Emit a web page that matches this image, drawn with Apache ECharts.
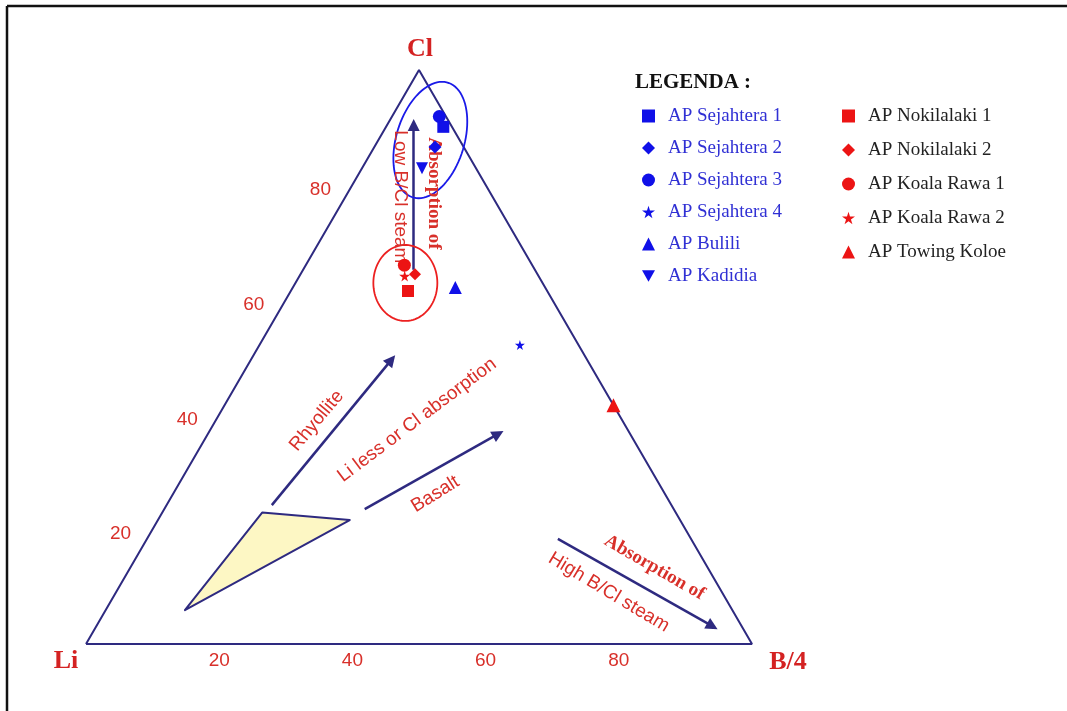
<!DOCTYPE html>
<html>
<head>
<meta charset="utf-8">
<script src="https://cdn.jsdelivr.net/npm/echarts/dist/echarts.min.js"></script>
<style>
html, body { margin: 0; padding: 0; background: #fff; }
#main { width: 1067px; height: 711px; }
</style>
</head>
<body>
<div id="main"></div>
<script>
// komposisi sampel dalam persen: Li, Cl, B/4
var sampleNames = ['AP Sejahtera 1', 'AP Sejahtera 2', 'AP Sejahtera 3', 'AP Sejahtera 4', 'AP Bulili', 'AP Kadidia',
                   'AP Nokilalaki 1', 'AP Nokilalaki 2', 'AP Koala Rawa 1', 'AP Koala Rawa 2', 'AP Towing Koloe'];
var liValues = [1.3, 4.3, 1.0, 8.8, 13.5, 8.1, 20.9, 18.4, 19.2, 20.1, 0];
var clValues = [90.1, 86.6, 91.9, 52.1, 62.1, 82.9, 61.5, 64.4, 66.0, 64.1, 41.6];
var bValues  = [8.6, 9.1, 7.1, 39.1, 24.4, 9.0, 17.6, 17.2, 14.8, 15.8, 58.4];

var tickValues = [20, 40, 60, 80];
var cornerNames = ['Li', 'Cl', 'B/4'];
var cornerPoints = [[100, 0, 0], [0, 100, 0], [0, 0, 100]];

// medan basalt - rhyolite (Li, Cl, B/4)
var fieldVertices = [[82.2, 5.9, 11.9], [62.1, 22.9, 15.0], [49.6, 21.6, 28.8]];

// panah: titik awal, titik akhir (Li, Cl, B/4)
var arrowPaths = [
    [[18.2, 65.2, 16.6], [5.6, 90.4, 4.0]],
    [[60.0, 24.2, 15.8], [29.4, 49.5, 21.1]],
    [[46.4, 23.5, 30.1], [19.8, 36.6, 43.6]],
    [[20.0, 18.3, 61.7], [4.4, 3.1, 92.5]]
];

// pusat elips kelompok (Li, Cl, B/4)
var ellipseCenters = [[4.4, 87.8, 7.8], [20.6, 62.9, 16.5]];

// keterangan pada diagram
var noteTexts = ['Absorption of', 'Low B/Cl steam', 'Rhyollite', 'Li less or Cl absorption', 'Basalt', 'Absorption of', 'High B/Cl steam'];
var notePoints = [[8.5, 78.5, 13.0], [13.9, 77.9, 8.2], [45.9, 38.9, 15.2], [30.8, 39.0, 30.2],
                  [34.5, 26.1, 39.4], [8.0, 13.3, 78.7], [17.0, 9.0, 74.0]];

var navy = '#2e2a80';
var red = '#d8302a';
var blue = '#1010e8';
var red2 = '#ec1414';

var starPath = 'path://M50,0 L61,35 L98,35 L68,57 L79,91 L50,70 L21,91 L32,57 L2,35 L39,35 Z';
var downTri = 'path://M0,0 L100,0 L50,87 Z';
var sampleSymbols = ['rect', 'diamond', 'circle', starPath, 'triangle', downTri,
                     'rect', 'diamond', 'circle', starPath, 'triangle'];
var sampleColors = [blue, blue, blue, blue, blue, blue, red2, red2, red2, red2, red2];
var sampleSizes = [12, 13, 13, 10, 13, 12, 12, 12, 13, 11, 14];

var noteStyles = [
    {rotate: -90, fontFamily: 'Liberation Serif', fontWeight: 'bold'},
    {rotate: -90, fontFamily: 'Liberation Sans', fontWeight: 'normal'},
    {rotate: 50, fontFamily: 'Liberation Sans', fontWeight: 'normal'},
    {rotate: 37, fontFamily: 'Liberation Sans', fontWeight: 'normal'},
    {rotate: 32, fontFamily: 'Liberation Sans', fontWeight: 'normal'},
    {rotate: -30, fontFamily: 'Liberation Serif', fontWeight: 'bold'},
    {rotate: -31, fontFamily: 'Liberation Sans', fontWeight: 'normal'}
];
var ellipseStyles = [
    {rx: 34, ry: 60, tilt: 17, color: '#1a1ae8'},
    {rx: 32, ry: 38, tilt: 0, color: '#ec2020'}
];
var cornerLabels = [
    {offset: [-20, 17]},
    {offset: [1, -21]},
    {offset: [36, 18]}
];

// ternary -> bidang kartesius (x = B + Cl/2, y = Cl)
var toXY = function (p) {
    var s = p[0] + p[1] + p[2];
    return [(p[2] + p[1] / 2) / s * 100, p[1] / s * 100];
};

var myChart = echarts.init(document.getElementById('main'));

var series = [];

series.push({
    type: 'line',
    silent: true,
    symbol: 'none',
    z: 2,
    lineStyle: {color: navy, width: 2},
    data: [toXY(cornerPoints[0]), toXY(cornerPoints[2]), toXY(cornerPoints[1]), toXY(cornerPoints[0])]
});

series.push({
    type: 'custom',
    silent: true,
    z: 2,
    renderItem: function (params, api) {
        var pts = fieldVertices.map(function (v) { return api.coord(toXY(v)); });
        return {
            type: 'polygon',
            shape: {points: pts},
            style: {fill: '#fdf7c4', stroke: navy, lineWidth: 2, lineJoin: 'round'}
        };
    },
    data: [[0, 0]]
});

series.push({
    type: 'lines',
    coordinateSystem: 'cartesian2d',
    silent: true,
    z: 3,
    symbol: ['none', 'triangle'],
    symbolSize: 12,
    lineStyle: {color: navy, width: 2.5, opacity: 1},
    data: arrowPaths.map(function (a) {
        return {coords: [toXY(a[0]), toXY(a[1])]};
    })
});

series.push({
    type: 'custom',
    silent: true,
    z: 4,
    renderItem: function (params, api) {
        var e = ellipseStyles[params.dataIndex];
        var c = api.coord(toXY(ellipseCenters[params.dataIndex]));
        var r = e.tilt * Math.PI / 180;
        var pts = [];
        for (var k = 0; k < 90; k++) {
            var t = k / 90 * 2 * Math.PI;
            var ex = e.rx * Math.cos(t), ey = e.ry * Math.sin(t);
            pts.push([c[0] + ex * Math.cos(r) - ey * Math.sin(r), c[1] + ex * Math.sin(r) + ey * Math.cos(r)]);
        }
        return {
            type: 'polygon',
            shape: {points: pts},
            style: {fill: 'none', stroke: e.color, lineWidth: 1.8}
        };
    },
    data: ellipseCenters.map(function (p) { return toXY(p); })
});

// keterangan teks
series.push({
    type: 'scatter',
    silent: true,
    z: 5,
    symbolSize: 1,
    itemStyle: {color: 'rgba(0,0,0,0)', opacity: 1},
    data: notePoints.map(function (p, i) {
        var st = noteStyles[i];
        return {
            value: toXY(p),
            label: {
                show: true,
                position: 'inside',
                formatter: noteTexts[i],
                rotate: st.rotate,
                fontFamily: st.fontFamily,
                fontWeight: st.fontWeight,
                fontSize: 19,
                color: red,
                opacity: 1
            }
        };
    })
});

// label sumbu kiri (Cl)
series.push({
    type: 'scatter',
    silent: true,
    symbolSize: 1,
    itemStyle: {color: 'rgba(0,0,0,0)', opacity: 1},
    data: tickValues.map(function (v) { return toXY([100 - v, v, 0]); }),
    label: {
        show: true,
        position: 'inside',
        offset: [-32, 5],
        formatter: function (p) { return tickValues[p.dataIndex]; },
        fontFamily: 'Liberation Sans',
        fontSize: 19,
        color: red,
        opacity: 1
    }
});

// label sudut
series.push({
    type: 'scatter',
    silent: true,
    symbolSize: 1,
    itemStyle: {color: 'rgba(0,0,0,0)', opacity: 1},
    data: cornerPoints.map(function (p, i) {
        return {
            value: toXY(p),
            label: {
                show: true,
                position: 'inside',
                offset: cornerLabels[i].offset,
                formatter: cornerNames[i]
            }
        };
    }),
    label: {
        fontFamily: 'Liberation Serif',
        fontWeight: 'bold',
        fontSize: 26,
        color: '#d42222',
        opacity: 1
    }
});

for (var i = 0; i < sampleNames.length; i++) {
    series.push({
        name: sampleNames[i],
        type: 'scatter',
        z: 6,
        symbol: sampleSymbols[i],
        symbolSize: sampleSizes[i],
        itemStyle: {color: sampleColors[i], opacity: 1},
        data: [toXY([liValues[i], clValues[i], bValues[i]])]
    });
}

var legendBase = {
    orient: 'vertical',
    itemWidth: 13,
    itemHeight: 13,
    selectedMode: false,
    textStyle: {
        fontFamily: 'Liberation Serif',
        fontSize: 19,
        lineHeight: 20,
        padding: [0, 0, 0, 8]
    }
};

myChart.setOption({
    backgroundColor: '#ffffff',
    animation: false,
    title: {
        text: 'LEGENDA :',
        left: 635,
        top: 72,
        padding: 0,
        textStyle: {
            fontFamily: 'Liberation Serif',
            fontWeight: 'bold',
            fontSize: 21,
            color: '#111'
        }
    },
    legend: [
        echarts.util.merge({
            left: 637,
            top: 101,
            itemGap: 12,
            data: sampleNames.slice(0, 6),
            textStyle: {color: '#3030d4'}
        }, legendBase),
        echarts.util.merge({
            left: 837,
            top: 101,
            itemGap: 14,
            data: sampleNames.slice(6),
            textStyle: {color: '#222'}
        }, legendBase)
    ],
    grid: {left: 86, right: 315, top: 70, bottom: 67},
    xAxis: {
        type: 'value',
        min: 0,
        max: 100,
        interval: 20,
        axisLine: {show: false},
        axisTick: {show: false},
        splitLine: {show: false},
        axisLabel: {
            margin: 7,
            showMinLabel: false,
            showMaxLabel: false,
            fontFamily: 'Liberation Sans',
            fontSize: 19,
            color: red
        }
    },
    yAxis: {
        type: 'value',
        min: 0,
        max: 100,
        show: false
    },
    graphic: [
        {type: 'line', shape: {x1: 7, y1: 6, x2: 1067, y2: 6}, style: {stroke: '#111', lineWidth: 2.5}},
        {type: 'line', shape: {x1: 7, y1: 6, x2: 7, y2: 711}, style: {stroke: '#111', lineWidth: 2.5}}
    ],
    series: series
});
</script>
</body>
</html>
